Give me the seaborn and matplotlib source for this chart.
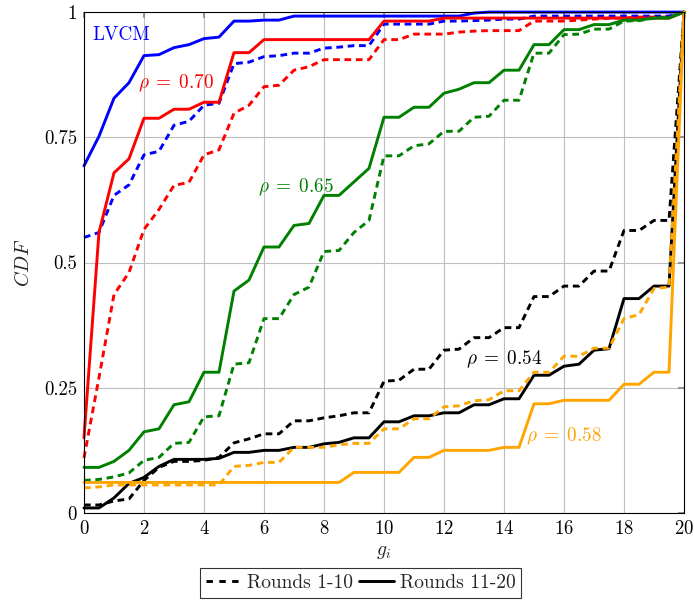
import matplotlib
matplotlib.use("Agg")
import matplotlib.pyplot as plt
import numpy as np
import pandas as pd
import seaborn as sns
from matplotlib.lines import Line2D

# g_i grid (rounds, steps of 0.5)
G_VALUES = np.linspace(0, 20, 41)

LVCM_EARLY = [0.55, 0.56, 0.634, 0.655, 0.715, 0.722, 0.774, 0.782, 0.814, 0.818,
              0.897, 0.90, 0.911, 0.913, 0.918, 0.918, 0.928, 0.93, 0.933, 0.933,
              0.976, 0.976, 0.976, 0.976, 0.982, 0.982, 0.983, 0.984, 0.986, 0.986,
              0.992, 0.992, 0.992, 0.992, 0.992, 0.992, 0.992, 0.992, 0.992, 0.992, 1.0]
LVCM_LATE = [0.693, 0.752, 0.828, 0.859, 0.913, 0.915, 0.929, 0.935, 0.947, 0.95,
             0.982, 0.982, 0.984, 0.984, 0.992, 0.992, 0.992, 0.992, 0.992, 0.992,
             0.992, 0.992, 0.992, 0.992, 0.992, 0.992, 0.998, 1.0, 1.0, 1.0,
             1.0, 1.0, 1.0, 1.0, 1.0, 1.0, 1.0, 1.0, 1.0, 1.0, 1.0]
R70_EARLY = [0.11, 0.27, 0.436, 0.48, 0.566, 0.606, 0.654, 0.66, 0.715, 0.725,
             0.798, 0.814, 0.851, 0.854, 0.884, 0.891, 0.905, 0.905, 0.905, 0.905,
             0.945, 0.945, 0.956, 0.956, 0.956, 0.96, 0.962, 0.963, 0.963, 0.963,
             0.982, 0.982, 0.982, 0.984, 0.986, 0.988, 0.988, 0.99, 0.99, 0.99, 1.0]
R70_LATE = [0.15, 0.56, 0.679, 0.707, 0.788, 0.788, 0.806, 0.806, 0.82, 0.82,
            0.919, 0.919, 0.945, 0.945, 0.945, 0.945, 0.945, 0.945, 0.945, 0.945,
            0.982, 0.982, 0.982, 0.982, 0.988, 0.988, 0.988, 0.988, 0.988, 0.988,
            0.988, 0.988, 0.988, 0.988, 0.988, 0.988, 0.988, 0.988, 0.988, 0.988, 1.0]
R65_EARLY = [0.065, 0.067, 0.072, 0.08, 0.105, 0.111, 0.139, 0.141, 0.192, 0.194,
             0.297, 0.30, 0.388, 0.388, 0.436, 0.451, 0.522, 0.524, 0.56, 0.584,
             0.713, 0.713, 0.733, 0.737, 0.762, 0.762, 0.79, 0.792, 0.824, 0.824,
             0.918, 0.918, 0.955, 0.956, 0.966, 0.966, 0.982, 0.983, 0.988, 0.99, 1.0]
R65_LATE = [0.091, 0.091, 0.103, 0.125, 0.162, 0.168, 0.216, 0.222, 0.281, 0.281,
            0.443, 0.465, 0.531, 0.531, 0.574, 0.578, 0.634, 0.634, 0.661, 0.688,
            0.79, 0.79, 0.81, 0.81, 0.838, 0.846, 0.859, 0.859, 0.884, 0.884,
            0.935, 0.935, 0.965, 0.965, 0.975, 0.975, 0.984, 0.984, 0.988, 0.988, 1.0]
R54_EARLY = [0.016, 0.016, 0.024, 0.028, 0.065, 0.091, 0.103, 0.103, 0.105, 0.111,
             0.14, 0.148, 0.158, 0.158, 0.184, 0.184, 0.19, 0.194, 0.2, 0.2,
             0.263, 0.265, 0.287, 0.287, 0.325, 0.327, 0.35, 0.35, 0.37, 0.37,
             0.432, 0.432, 0.453, 0.453, 0.483, 0.483, 0.564, 0.564, 0.584, 0.584, 1.0]
R54_LATE = [0.01, 0.01, 0.03, 0.059, 0.071, 0.093, 0.107, 0.107, 0.107, 0.109,
            0.121, 0.121, 0.125, 0.125, 0.131, 0.131, 0.138, 0.141, 0.15, 0.15,
            0.182, 0.182, 0.194, 0.194, 0.2, 0.2, 0.216, 0.216, 0.228, 0.228,
            0.275, 0.275, 0.293, 0.297, 0.325, 0.328, 0.428, 0.428, 0.453, 0.453, 1.0]
R58_EARLY = [0.05, 0.052, 0.056, 0.056, 0.056, 0.056, 0.056, 0.056, 0.056, 0.056,
             0.093, 0.095, 0.101, 0.101, 0.131, 0.131, 0.131, 0.136, 0.139, 0.139,
             0.168, 0.168, 0.188, 0.188, 0.212, 0.214, 0.224, 0.226, 0.244, 0.244,
             0.281, 0.281, 0.313, 0.313, 0.329, 0.329, 0.388, 0.396, 0.448, 0.451, 1.0]
R58_LATE = [0.061, 0.061, 0.061, 0.061, 0.061, 0.061, 0.061, 0.061, 0.061, 0.061,
            0.061, 0.061, 0.061, 0.061, 0.061, 0.061, 0.061, 0.061, 0.081, 0.081,
            0.081, 0.081, 0.111, 0.111, 0.125, 0.125, 0.125, 0.125, 0.131, 0.131,
            0.218, 0.218, 0.225, 0.225, 0.225, 0.225, 0.257, 0.257, 0.281, 0.281, 1.0]

SERIES = {
    ("LVCM", "Rounds 1-10"): LVCM_EARLY,
    ("LVCM", "Rounds 11-20"): LVCM_LATE,
    ("rho70", "Rounds 1-10"): R70_EARLY,
    ("rho70", "Rounds 11-20"): R70_LATE,
    ("rho65", "Rounds 1-10"): R65_EARLY,
    ("rho65", "Rounds 11-20"): R65_LATE,
    ("rho54", "Rounds 1-10"): R54_EARLY,
    ("rho54", "Rounds 11-20"): R54_LATE,
    ("rho58", "Rounds 1-10"): R58_EARLY,
    ("rho58", "Rounds 11-20"): R58_LATE,
}

PALETTE = {"LVCM": "#0000ff", "rho70": "#ff0000", "rho65": "#008000",
           "rho54": "#000000", "rho58": "#ffa500"}

LABELS = [
    ("LVCM", r"LVCM", 0.27, 0.955),
    ("rho70", r"$\rho\;=\;0.70$", 1.8, 0.858),
    ("rho65", r"$\rho\;=\;0.65$", 5.8, 0.65),
    ("rho54", r"$\rho\;=\;0.54$", 12.75, 0.307),
    ("rho58", r"$\rho\;=\;0.58$", 14.75, 0.154),
]

LW = 2.1
DASHES = (2.3, 1.6)


def build_frame() -> pd.DataFrame:
    rows = []
    for (model, rounds), values in SERIES.items():
        for g, v in zip(G_VALUES, values):
            rows.append({"g": g, "cdf": v, "model": model, "rounds": rounds})
    return pd.DataFrame(rows)


def main() -> None:
    sns.set_theme(style="whitegrid")
    plt.rcParams["font.family"] = ["cmr10", "DejaVu Serif"]
    plt.rcParams["mathtext.fontset"] = "cm"
    plt.rcParams["axes.formatter.use_mathtext"] = True

    df = build_frame()
    fig = plt.figure(figsize=(6.94, 6.04), dpi=100)
    ax = fig.add_axes([0.121, 0.1507, 0.8646, 0.8293])

    sns.lineplot(data=df, x="g", y="cdf", hue="model", style="rounds",
                 palette=PALETTE, dashes={"Rounds 1-10": DASHES, "Rounds 11-20": ""},
                 linewidth=LW, legend=False, ax=ax, sort=False)
    for line in ax.lines:
        line.set_clip_on(False)

    for model, text, x, y in LABELS:
        ax.text(x, y, text, color=PALETTE[model], fontsize=13.8, ha="left", va="center")

    ax.set_xlim(0, 20)
    ax.set_ylim(0, 1)
    ax.set_xticks(range(0, 21, 2))
    ax.set_yticks([0, 0.25, 0.5, 0.75, 1])
    ax.set_yticklabels(["0", "0.25", "0.5", "0.75", "1"])
    ax.set_xlabel(r"$g_i$", fontsize=14, labelpad=4)
    ax.set_ylabel(r"$CDF$", fontsize=14.5, labelpad=8)
    ax.grid(True, color="#bebebe", linewidth=0.8)
    ax.tick_params(direction="in", length=4, top=True, right=True, color="#888888",
                   labelsize=13.5, pad=5, labelcolor="black")
    for spine in ax.spines.values():
        spine.set_color("black")
        spine.set_linewidth(0.8)

    handles = [
        Line2D([], [], color="black", linewidth=LW, dashes=(2.2, 2.2)),
        Line2D([], [], color="black", linewidth=LW),
    ]
    leg = fig.legend(handles, ["Rounds 1-10", "Rounds 11-20"], loc="center",
                     bbox_to_anchor=(0.52, 0.035), ncol=2, frameon=True, fancybox=False,
                     handlelength=1.8, handletextpad=0.3, columnspacing=0.3,
                     borderpad=0.3, fontsize=14)
    leg.get_frame().set_edgecolor("black")
    leg.get_frame().set_linewidth(0.8)

    fig.savefig("out.png", dpi=100)
    plt.close(fig)


if __name__ == "__main__":
    main()
